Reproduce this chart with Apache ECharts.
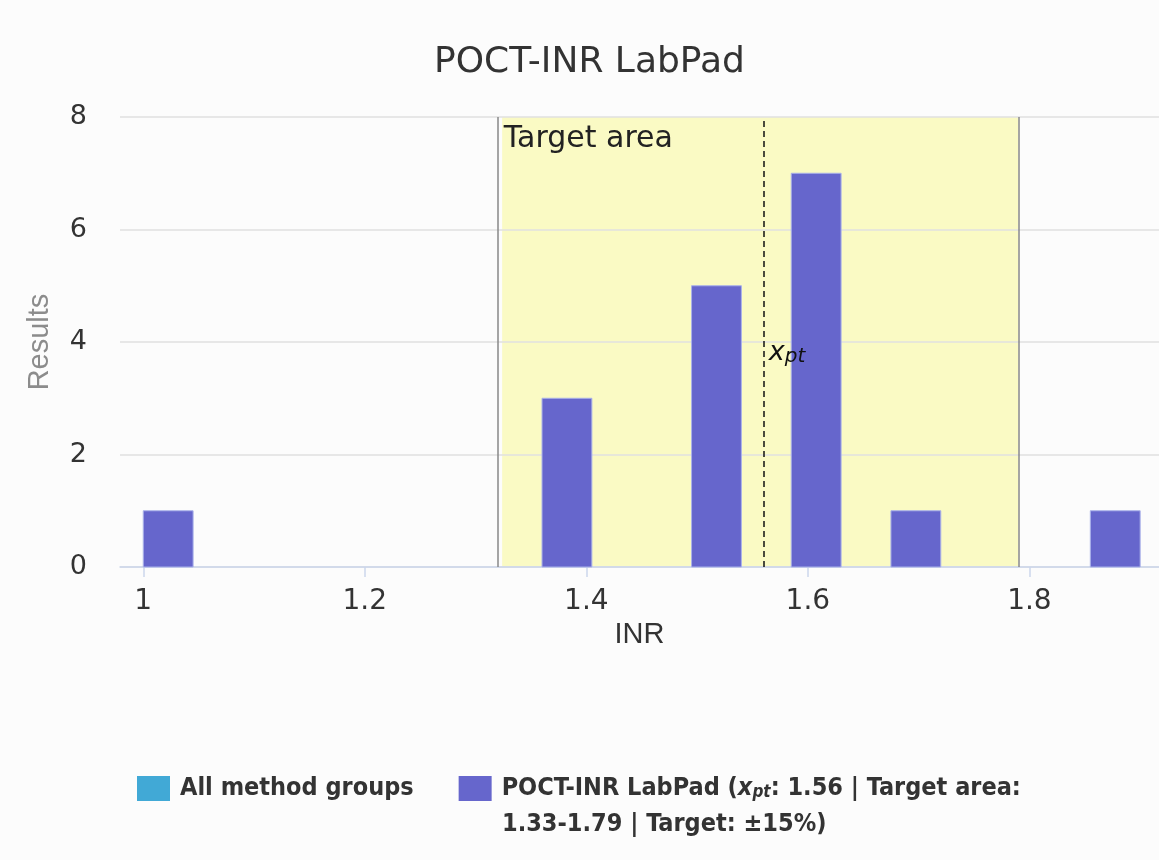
<!DOCTYPE html>
<html>
<head>
<meta charset="utf-8"/>
<title>POCT-INR LabPad</title>
<script src="https://cdn.jsdelivr.net/npm/echarts@6/dist/echarts.min.js"></script>
<style>
html, body { margin: 0; padding: 0; background: #fcfcfc; }
#main { width: 1159px; height: 860px; }
</style>
</head>
<body>
<div id="main"></div>
<script>
// histogram bins (INR) and result counts
var binStart = [1.0, 1.36, 1.495, 1.585, 1.675, 1.855];
var binEnd   = [1.045, 1.405, 1.54, 1.63, 1.72, 1.9];
var counts   = [1, 3, 5, 7, 1, 1];
var xTicks   = [1, 1.2, 1.4, 1.6, 1.8];
var xpt = 1.557;                 // assigned value, drawn position
var targetArea = [1.324, 1.79];  // drawn target area
var xptText = '1.56';
var targetAreaText = '1.33-1.79';
var targetText = '\u00b115%';
var seriesNames = ['All method groups', 'POCT-INR LabPad'];

var chart = echarts.init(document.getElementById('main'));

var barData = [];
for (var i = 0; i < counts.length; i++) {
    barData.push([binStart[i], binEnd[i], counts[i]]);
}

function renderBar(params, api) {
    var top = api.coord([api.value(0), api.value(2)]);
    var bot = api.coord([api.value(1), 0]);
    return {
        type: 'rect',
        shape: { x: top[0], y: top[1], width: bot[0] - top[0], height: bot[1] - top[1] },
        style: { fill: '#6666cc', stroke: '#aab2ea', lineWidth: 1 }
    };
}

var font = 'DejaVu Sans';
var legendFont = 'DejaVu Sans Condensed, DejaVu Sans';

var option = {
    backgroundColor: '#fcfcfc',
    title: {
        text: 'POCT-INR LabPad',
        left: 429, top: 40,
        textStyle: { fontFamily: font, fontSize: 36, fontWeight: 'normal', color: '#333' }
    },
    grid: { left: 120, right: 0, top: 117, bottom: 293 },
    xAxis: {
        type: 'value', min: 0.979, max: 1.917, z: 3,
        name: 'INR', nameLocation: 'middle', nameGap: 37,
        nameTextStyle: { fontFamily: 'Liberation Sans', fontSize: 29, color: '#333' },
        axisLine: { lineStyle: { color: '#ccd6eb', width: 1.5 } },
        axisTick: { customValues: xTicks, length: 10, lineStyle: { color: '#ccd6eb', width: 1.5 } },
        axisLabel: { customValues: xTicks, fontFamily: font, fontSize: 28, color: '#333', margin: 21 },
        splitLine: { show: false }
    },
    yAxis: {
        type: 'value', min: 0, max: 8, interval: 2, z: 3,
        name: 'Results', nameLocation: 'middle', nameGap: 66,
        nameTextStyle: { fontFamily: 'Liberation Sans', fontSize: 29, color: '#8c8c8c' },
        axisLine: { show: false },
        axisTick: { show: false },
        axisLabel: { fontFamily: font, fontSize: 27, color: '#333', margin: 33 },
        splitLine: { lineStyle: { color: '#e0e0e0', width: 1.5 } }
    },
    legend: {
        data: seriesNames,
        left: 132, top: 771,
        icon: 'rect', itemWidth: 33, itemHeight: 25, itemGap: 45,
        selectedMode: false,
        formatter: function (name) {
            if (name === seriesNames[1]) {
                return '{f|' + name + ' (}{i|x}{s|pt}{b|: ' + xptText + ' | Target area:}';
            }
            return '{f|' + name + '}';
        },
        textStyle: {
            rich: {
                f: { fontFamily: legendFont, fontSize: 25, fontWeight: 'bold', color: '#333', padding: [0, 0, 0, 5] },
                b: { fontFamily: legendFont, fontSize: 25, fontWeight: 'bold', color: '#333' },
                i: { fontFamily: legendFont, fontSize: 25, fontWeight: 'bold', fontStyle: 'italic', color: '#333' },
                s: { fontFamily: legendFont, fontSize: 17, fontWeight: 'bold', fontStyle: 'italic', color: '#333', verticalAlign: 'bottom' }
            }
        }
    },
    graphic: [{
        type: 'text', left: 502, top: 812,
        style: {
            text: targetAreaText + ' | Target: ' + targetText + ')',
            font: 'bold 25px ' + legendFont, fill: '#333'
        }
    }],
    series: [
        {
            name: 'markers', type: 'line', data: [], z: 1,
            markArea: {
                silent: true,
                itemStyle: { color: '#fafac4' },
                label: { show: false },
                data: [[{ xAxis: targetArea[0], yAxis: 8 }, { xAxis: targetArea[1], yAxis: 0 }]]
            },
            markLine: {
                silent: true, symbol: 'none',
                label: { show: false },
                data: [
                    { xAxis: targetArea[0], lineStyle: { color: '#888', width: 1.5, type: 'solid' } },
                    { xAxis: targetArea[1], lineStyle: { color: '#888', width: 1.5, type: 'solid' } },
                    { xAxis: xpt, lineStyle: { color: '#111', width: 1.5, type: [6, 4] } }
                ]
            },
            markPoint: {
                silent: true, symbol: 'rect', symbolSize: 1,
                itemStyle: { color: 'rgba(0,0,0,0)' },
                data: [
                    {
                        coord: [xpt, 3.8],
                        label: {
                            show: true, position: 'right', distance: 8,
                            formatter: '{i|x}{s|pt}',
                            rich: {
                                i: { fontFamily: font, fontSize: 27, fontStyle: 'italic', color: '#111' },
                                s: { fontFamily: font, fontSize: 20, fontStyle: 'italic', color: '#111', verticalAlign: 'bottom' }
                            }
                        }
                    },
                    {
                        coord: [targetArea[0], 8],
                        label: {
                            show: true, position: [2, 8], align: 'left', verticalAlign: 'top',
                            formatter: 'Target area',
                            fontFamily: font, fontSize: 30, color: '#222'
                        }
                    }
                ]
            }
        },
        {
            name: seriesNames[0], type: 'custom', data: [], z: 4,
            itemStyle: { color: '#41a9d6' },
            renderItem: renderBar
        },
        {
            name: seriesNames[1], type: 'custom', z: 4,
            itemStyle: { color: '#6666cc' },
            encode: { x: [0, 1], y: 2 },
            data: barData,
            renderItem: renderBar
        }
    ]
};

chart.setOption(option);
</script>
</body>
</html>
